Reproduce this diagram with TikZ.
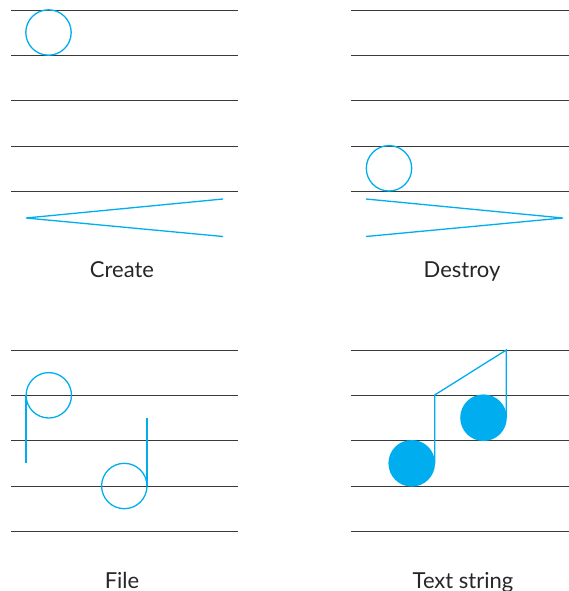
\documentclass[tikz,border=0pt]{standalone}
\usepackage{fontspec}
\setmainfont{Lato}
\definecolor{cyanblue}{HTML}{00AEEF}
\definecolor{staffgray}{HTML}{3A3A3A}
\begin{document}
\begin{tikzpicture}[x=1pt,y=-1pt,
  staffline/.style={draw=staffgray,line width=0.9pt},
  note/.style={draw=cyanblue,line width=1.3pt},
  filled/.style={fill=cyanblue,draw=none},
  caption/.style={anchor=base,font=\fontsize{22}{26}\selectfont,text=black!85,inner sep=0pt}]
\useasboundingbox (0,0) rectangle (569,591);
% staves
\foreach \y in {10,55,100,146,191}{
  \draw[staffline] (11,\y) -- (238,\y);
  \draw[staffline] (351,\y) -- (569,\y);
}
\foreach \y in {350,395,440.5,486,531}{
  \draw[staffline] (11,\y) -- (238,\y);
  \draw[staffline] (351,\y) -- (569,\y);
}
% Create
\draw[note] (48.5,32.5) circle (22.7);
\coordinate (cA) at (223,199);
\coordinate (cP) at (26,218);
\coordinate (cB) at (223,236.5);
\draw[note] (cA) -- (cP) -- (cB);
\node[caption] (create) at (122,277.5) {Create};
% Destroy
\draw[note] (389,168.3) circle (22.7);
\coordinate (dA) at (366,199);
\coordinate (dP) at (563,218);
\coordinate (dB) at (366,236.5);
\draw[note] (dA) -- (dP) -- (dB);
\node[caption] (destroy) at (462,277.5) {Destroy};
% File
\draw[note] (48.8,395.3) circle (22.7);
\coordinate (f1a) at (26,395.3);
\coordinate (f1b) at (26,463);
\draw[note] (f1a) -- (f1b);
\draw[note] (124.3,486) circle (22.7);
\coordinate (f2a) at (147,486);
\coordinate (f2b) at (147,418);
\draw[note] (f2a) -- (f2b);
\node[caption] (file) at (122,588) {File};
% Text string
\fill[filled] (411.7,463.3) circle (23.3);
\fill[filled] (483.5,417.7) circle (23.3);
\coordinate (t1) at (434.7,463.3);
\coordinate (t2) at (434.7,395);
\coordinate (t3) at (506.3,350);
\coordinate (t4) at (506.3,417.7);
\draw[note,line join=miter] (t1) -- (t2) -- (t3) -- (t4);
\node[caption] (textstring) at (463,588) {Text string};
\end{tikzpicture}
\end{document}
